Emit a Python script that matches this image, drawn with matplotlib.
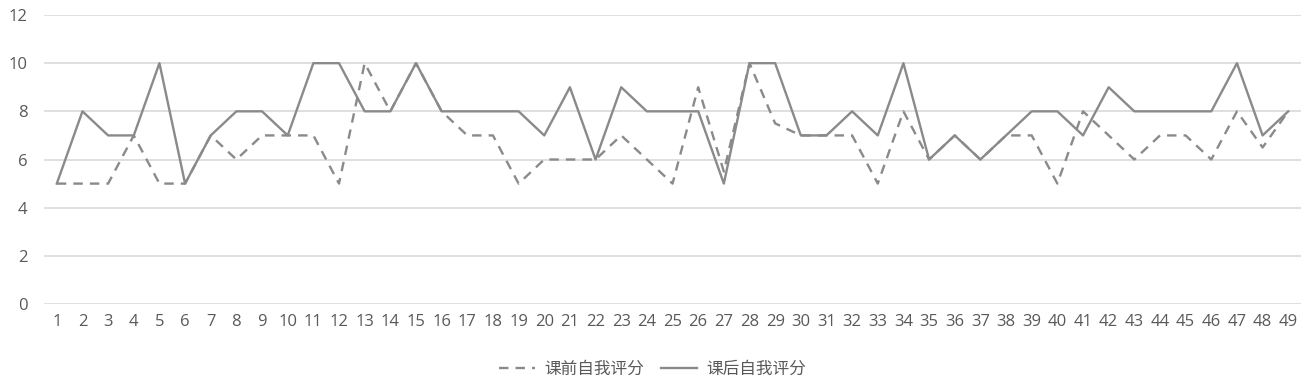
import matplotlib.pyplot as plt
import numpy as np

plt.rcParams['font.family'] = ['Noto Sans CJK SC', 'DejaVu Sans']

# student index and self-ratings (before / after class)
students = list(range(1, 50))
before = [5, 5, 5, 7, 5, 5, 7, 6, 7, 7,
          7, 5, 10, 8, 10, 8, 7, 7, 5, 6,
          6, 6, 7, 6, 5, 9, 5.5, 10, 7.5, 7,
          7, 7, 5, 8, 6, 7, 6, 7, 7, 5,
          8, 7, 6, 7, 7, 6, 8, 6.5, 8]
after = [5, 8, 7, 7, 10, 5, 7, 8, 8, 7,
         10, 10, 8, 8, 10, 8, 8, 8, 8, 7,
         9, 6, 9, 8, 8, 8, 5, 10, 10, 7,
         7, 8, 7, 10, 6, 7, 6, 7, 8, 8,
         7, 9, 8, 8, 8, 8, 10, 7, 8]
labels = ['课前自我评分', '课后自我评分']

line_color = '#8a8a8a'
text_color = '#595959'

fig = plt.figure(figsize=(13.05, 3.81), dpi=100)
ax = fig.add_axes([0.0337, 0.2021, 0.9633, 0.7585])

x = np.arange(len(students))
ax.plot(x, before, color=line_color, linewidth=1.7, linestyle=(0, (4, 3)), label=labels[0])
ax.plot(x, after, color=line_color, linewidth=1.7, label=labels[1])

ax.set_xlim(-0.5, len(students) - 0.5)
ax.set_ylim(0, 12)
ax.set_yticks(range(0, 13, 2))
ax.set_xticks(x)
ax.set_xticklabels([str(s) for s in students])

ax.grid(axis='y', color='#d9d9d9', linewidth=1.2)
ax.set_axisbelow(True)
for side in ['top', 'right', 'left', 'bottom']:
    ax.spines[side].set_visible(False)
ax.tick_params(axis='both', length=0, labelsize=12, colors=text_color, pad=7)
ax.tick_params(axis='y', pad=12)
for lab in ax.get_xticklabels() + ax.get_yticklabels():
    lab.set_family(['Open Sans', 'DejaVu Sans'])

fig.legend(loc='center', bbox_to_anchor=(0.5, 0.03), ncol=2, frameon=False,
           fontsize=12, handlelength=2.2, handletextpad=0.55, columnspacing=1.0,
           labelcolor=text_color)

fig.savefig('out.png', dpi=100)
